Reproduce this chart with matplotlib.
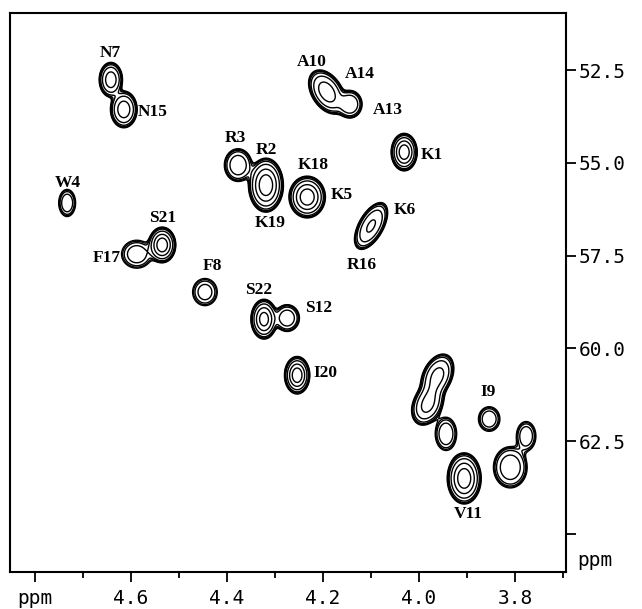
import numpy as np
import matplotlib.pyplot as plt

# cross peaks: 1H shift, 13C shift (ppm)
peak_h = [4.642, 4.615, 4.733, 4.535, 4.588, 4.446, 4.377, 4.319, 4.233,
          4.192, 4.144, 4.031, 4.100, 4.323, 4.275, 4.254, 3.854, 3.962,
          3.982, 3.944, 3.777, 3.810, 3.906]
peak_c = [52.76, 53.56, 56.08, 57.21, 57.46, 58.48, 55.06, 55.60, 55.92,
          53.09, 53.42, 54.71, 56.70, 59.21, 59.18, 60.72, 61.90, 60.75,
          61.50, 62.30, 62.36, 63.20, 63.50]
peak_amp = [1.0, 1.0, 0.3, 1.5, 0.28, 0.26, 0.6, 1.5, 1.5,
            1.0, 0.7, 1.5, 0.8, 1.4, 0.6, 1.5, 0.3, 0.9,
            0.9, 0.3, 0.3, 0.6, 1.5]
# line widths (ppm) in each dimension and tilt
peak_wh = [0.0135, 0.0155, 0.0130, 0.0148, 0.0240, 0.0200, 0.0175, 0.0190, 0.0198,
           0.0212, 0.0150, 0.0142, 0.0200, 0.0144, 0.0158, 0.0138, 0.0165, 0.0195,
           0.0190, 0.0165, 0.0150, 0.0215, 0.0185]
peak_wc = [0.260, 0.275, 0.270, 0.251, 0.285, 0.285, 0.270, 0.380, 0.294,
           0.330, 0.220, 0.264, 0.365, 0.283, 0.221, 0.264, 0.245, 0.340,
           0.320, 0.330, 0.290, 0.340, 0.360]
peak_rho = [0, 0, 0, 0, 0, 0, 0, 0, 0,
            -0.4, 0, 0, 0.57, 0, 0, 0, 0, 0.35,
            0.3, 0, 0, 0, 0]

labels = ["N7", "N15", "W4", "S21", "F17", "F8", "R3", "R2", "K19", "K18",
          "K5", "A10", "A14", "A13", "K1", "K6", "R16", "S22", "S12", "I20",
          "I9", "V11"]
label_h = [4.644, 4.554, 4.731, 4.535, 4.650, 4.431, 4.383, 4.317, 4.310,
           4.221, 4.160, 4.223, 4.123, 4.065, 3.973, 4.029, 4.119, 4.335,
           4.210, 4.196, 3.856, 3.898]
label_c = [52.04, 53.63, 55.54, 56.49, 57.56, 57.78, 54.33, 54.66, 56.62,
           55.06, 55.87, 52.28, 52.61, 53.58, 54.79, 56.27, 57.75, 58.43,
           58.91, 60.66, 61.17, 64.45]

xticks = [4.8, 4.6, 4.4, 4.2, 4.0, 3.8]
xticklabels = ["ppm", "4.6", "4.4", "4.2", "4.0", "3.8"]
yticks = [52.5, 55.0, 57.5, 60.0, 62.5, 65.0]
yticklabels = ["52.5", "55.0", "57.5", "60.0", "62.5", ""]


def main():
    fig = plt.figure(figsize=(6.42, 6.09), dpi=100)
    ax = fig.add_axes([0.0156, 0.0608, 0.866, 0.918])

    x = np.linspace(3.65, 4.9, 800)
    y = np.linspace(50.8, 66.2, 800)
    X, Y = np.meshgrid(x, y)
    Z = np.zeros_like(X)
    for h, c, a, wh, wc, r in zip(peak_h, peak_c, peak_amp, peak_wh, peak_wc, peak_rho):
        u = (X - h) / wh
        v = (Y - c) / wc
        q = (u**2 - 2 * r * u * v + v**2) / (1 - r**2)
        Z += a * np.exp(-0.5 * q**1.3)

    levels = [0.1, 0.12, 0.15, 0.21, 0.38, 0.75, 1.2]
    ax.contour(X, Y, Z, levels=levels, colors="black", linewidths=1.0)

    for t, h, c in zip(labels, label_h, label_c):
        ax.text(h, c, t, ha="center", va="center", fontsize=12.5,
                fontweight="bold", family="Liberation Serif")

    ax.set_xlim(4.852, 3.694)
    ax.set_ylim(66.02, 50.96)
    ax.set_xticks(xticks)
    ax.set_xticklabels(xticklabels)
    ax.set_xticks(np.arange(3.7, 4.85, 0.2), minor=True)
    ax.set_yticks(yticks)
    ax.set_yticklabels(yticklabels)
    ax.yaxis.tick_right()
    ax.tick_params(axis="both", which="major", direction="out", length=7,
                   width=1.3, labelsize=14)
    ax.tick_params(axis="x", which="minor", direction="out", length=4, width=1.3)
    ax.tick_params(axis="x", pad=5)
    ax.tick_params(axis="y", pad=2)
    for lab in ax.get_xticklabels() + ax.get_yticklabels():
        lab.set_family("DejaVu Sans Mono")
    ax.text(1.02, 0.02, "ppm", transform=ax.transAxes, fontsize=14,
            family="DejaVu Sans Mono", va="center", ha="left")
    for s in ax.spines.values():
        s.set_linewidth(1.5)

    fig.savefig("out.png", dpi=100)


if __name__ == "__main__":
    main()
